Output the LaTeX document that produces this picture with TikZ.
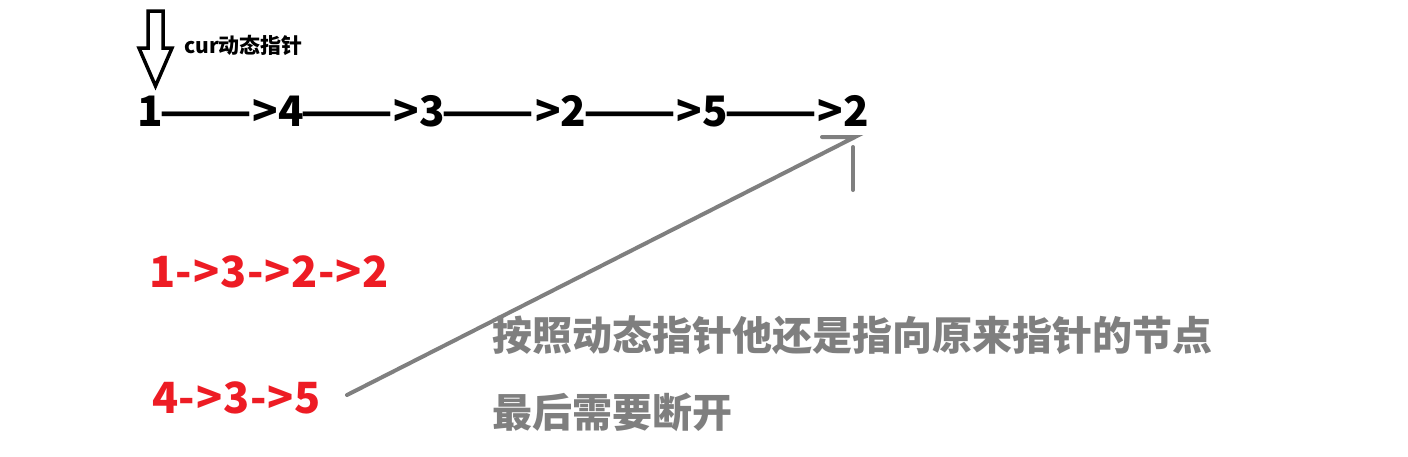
\documentclass[tikz,border=0pt]{standalone}
\usepackage{fontspec}
\usepackage{graphicx}
\newfontfamily\cjk{Noto Sans CJK SC}
\definecolor{myred}{HTML}{ED1C24}
\definecolor{mygray}{HTML}{7F7F7F}
\newcommand\dd{\kern-3.4pt\scalebox{1.29}[1]{——}\kern0.3pt>\kern0.3pt}
\newcommand\rk{\kern0.8pt}
\tikzset{
  lbl/.style={inner sep=0pt, outer sep=0pt, anchor=base west},
  seqtext/.style={lbl, font=\cjk\bfseries\fontsize{42}{42}\selectfont, text=black},
  redtext/.style={lbl, font=\cjk\bfseries\fontsize{43}{43}\selectfont, text=myred},
  graytext/.style={lbl, font=\cjk\bfseries\fontsize{40}{40}\selectfont, text=mygray},
  curtext/.style={lbl, font=\cjk\bfseries\fontsize{21}{21}\selectfont, text=black},
  hollow/.style={draw=black, line width=3.5pt, line join=miter, fill=white},
  grayline/.style={draw=mygray, line width=4pt, line cap=round}
}
\begin{document}
\begin{tikzpicture}[x=1pt,y=-1pt]
\useasboundingbox (0,0) rectangle (1408,456);
% hollow down arrow
\draw[hollow] (148,11) -- (163,11) -- (163,48) -- (172,48) -- (155.5,86) -- (139,48) -- (148,48) -- cycle;
\node[curtext] (cur) at (184,53) {cur动态指针};
% main sequence
\node[seqtext] (seq) at (137,126) {1\dd4\dd3\dd2\dd5\dd2};
% red lists
\node[redtext] (r1) at (149,287) {1\rk-\rk>\rk3\rk-\rk>\rk2\rk-\rk>\rk2};
\node[redtext] (r2) at (152,413) {4\rk-\rk>\rk3\rk-\rk>\rk5};
% gray notes
\node[graytext] (g1) at (492,350) {按照动态指针他还是指向原来指针的节点};
\node[graytext] (g2) at (492,427) {最后需要断开};
% gray pointer line
\coordinate (start) at (347,395);
\coordinate (tip) at (855,137);
\coordinate (wing) at (822,137);
\coordinate (stubtop) at (853,147);
\coordinate (stubbot) at (853,190);
\draw[grayline] (start) -- (tip) -- (wing);
\draw[grayline] (stubtop) -- (stubbot);
\end{tikzpicture}
\end{document}
